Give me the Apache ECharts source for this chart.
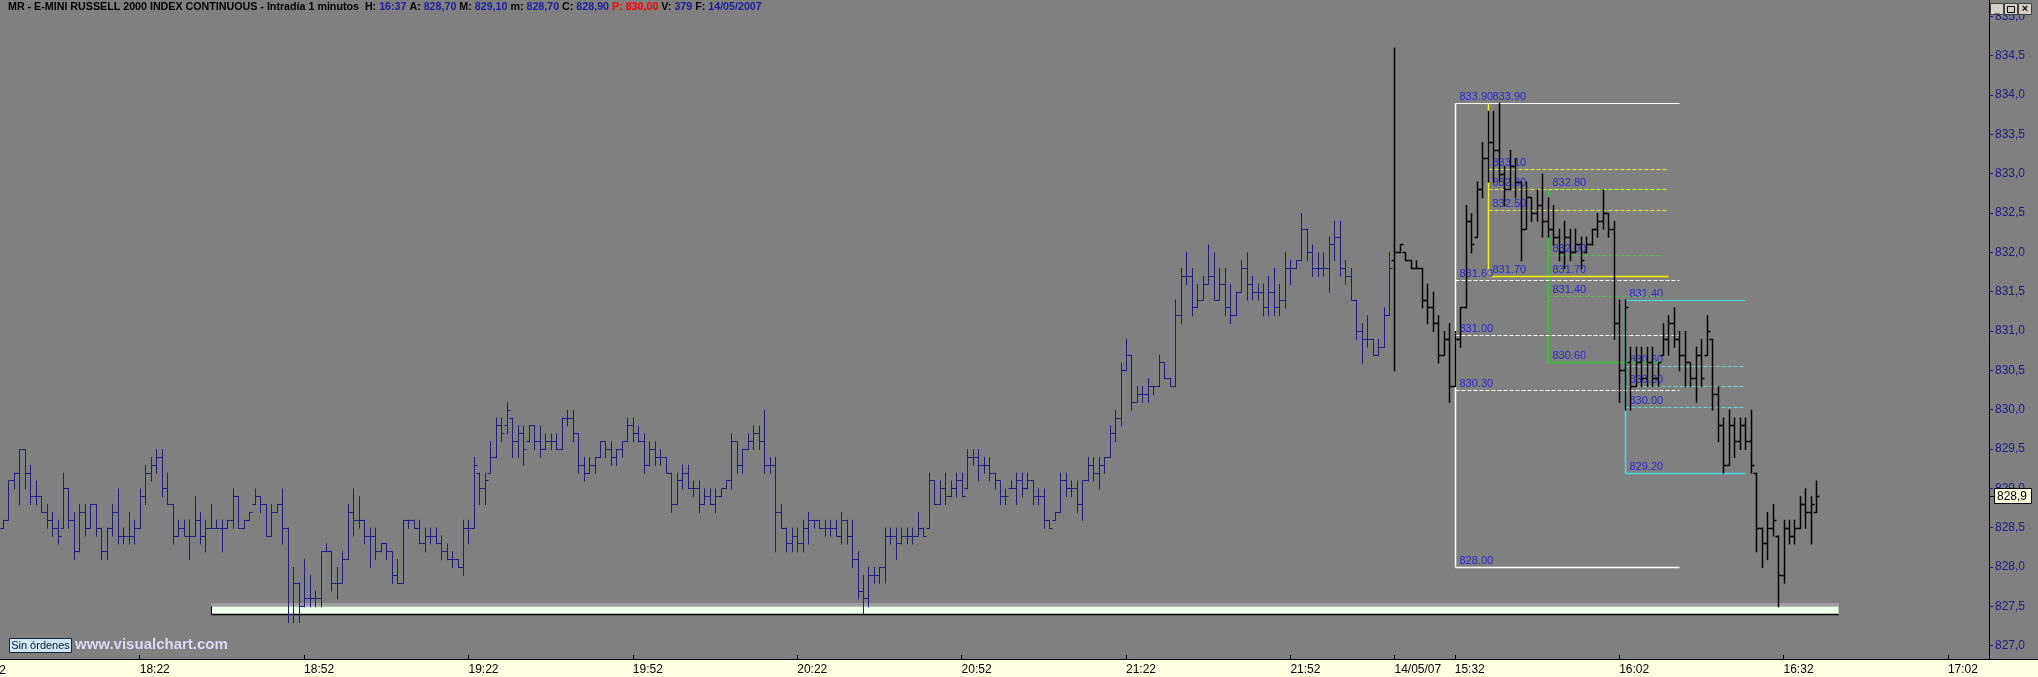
<!DOCTYPE html>
<html><head><meta charset="utf-8">
<script src="https://cdn.jsdelivr.net/npm/echarts@6/dist/echarts.min.js"></script>
<style>html,body{margin:0;padding:0;background:#808080;overflow:hidden}#chart{width:2038px;height:677px}</style>
</head><body><div id="chart"></div>
<script>
// ---------- DATA ----------
const sessionStarts = ['17:57', '15:21'];
const sessionLengths = [254, 109];
const dateLabel = '14/05/07';
const xTickLabels = ['18:22','18:52','19:22','19:52','20:22','20:52','21:22','21:52','15:32','16:02','16:32','17:02'];

// [open, high, low, close] per 1-minute bar, session 1 (from 17:57)
const dayOneBars = [
[828.5,828.6,828.5,828.6],[828.6,829.1,828.6,829.1],[829.1,829.2,829.0,829.2],[829.2,829.5,828.8,829.5],[829.5,829.5,829.0,829.2],
[829.2,829.3,828.8,828.9],[828.9,829.1,828.8,828.9],[828.9,828.9,828.7,828.7],[828.7,828.8,828.5,828.6],[828.6,828.7,828.4,828.5],
[828.5,828.6,828.3,828.4],[828.5,829.2,828.5,829.0],[829.0,829.0,828.5,828.6],[828.6,828.7,828.1,828.2],[828.2,828.8,828.2,828.7],
[828.7,828.8,828.4,828.5],[828.5,828.8,828.5,828.8],[828.8,828.8,828.4,828.5],[828.5,828.5,828.1,828.2],[828.2,828.5,828.1,828.5],
[828.5,828.8,828.4,828.7],[828.7,829.0,828.3,828.4],[828.4,828.5,828.3,828.4],[828.4,828.7,828.3,828.4],[828.4,828.6,828.3,828.5],
[828.5,829.0,828.5,828.9],[828.9,829.3,828.8,829.2],[829.2,829.4,829.1,829.3],[829.3,829.5,829.2,829.4],[829.4,829.5,828.9,829.0],
[829.0,829.2,828.8,828.8],[828.8,828.8,828.3,828.4],[828.4,828.6,828.4,828.5],[828.5,828.6,828.4,828.4],[828.4,828.6,828.1,828.4],
[828.4,828.9,828.4,828.6],[828.6,828.7,828.3,828.4],[828.4,828.6,828.2,828.5],[828.5,828.8,828.5,828.5],[828.5,828.6,828.5,828.5],
[828.5,828.6,828.2,828.5],[828.5,828.6,828.5,828.6],[828.6,829.0,828.5,828.9],[828.9,828.9,828.5,828.5],[828.5,828.6,828.5,828.6],
[828.6,828.7,828.6,828.7],[828.8,829.0,828.8,828.9],[828.9,828.9,828.7,828.8],[828.8,828.8,828.4,828.4],[828.4,828.8,828.4,828.7],
[828.7,828.8,828.7,828.8],[828.8,829.0,828.3,828.5],[828.5,828.5,827.3,827.4],[827.4,828.0,827.3,827.8],[827.8,827.8,827.3,827.5],
[827.5,828.1,827.5,827.6],[827.6,827.9,827.5,827.6],[827.6,827.7,827.5,827.6],[827.6,828.2,827.5,828.2],[828.2,828.3,828.2,828.2],
[828.2,828.2,827.7,827.8],[827.8,828.0,827.6,827.8],[827.8,828.2,827.8,828.1],[828.1,828.8,828.1,828.7],[828.7,829.0,828.4,828.6],
[828.6,828.9,828.5,828.6],[828.6,828.6,828.3,828.4],[828.4,828.5,828.0,828.4],[828.4,828.5,828.1,828.2],[828.2,828.3,828.2,828.3],
[828.3,828.3,828.1,828.2],[828.2,828.2,827.8,827.9],[827.9,828.1,827.8,827.8],[827.8,828.6,827.8,828.6],[828.6,828.6,828.5,828.6],
[828.6,828.6,828.5,828.5],[828.5,828.6,828.3,828.3],[828.3,828.5,828.2,828.4],[828.4,828.5,828.3,828.4],[828.4,828.5,828.3,828.3],
[828.3,828.4,828.1,828.2],[828.2,828.3,828.1,828.1],[828.1,828.2,828.0,828.1],[828.1,828.1,828.0,828.0],[828.0,828.6,827.9,828.5],
[828.5,828.6,828.3,828.5],[828.5,829.4,828.5,829.3],[829.2,829.2,828.8,829.0],[829.0,829.2,828.8,829.1],[829.2,829.6,829.2,829.4],
[829.4,829.9,829.4,829.8],[829.8,829.9,829.6,829.7],[829.8,830.1,829.7,830.0],[829.9,829.9,829.4,829.6],[829.6,829.8,829.4,829.7],
[829.7,829.8,829.3,829.5],[829.6,829.8,829.6,829.8],[829.8,829.8,829.5,829.6],[829.6,829.8,829.4,829.5],[829.5,829.7,829.5,829.6],
[829.6,829.7,829.5,829.6],[829.6,829.7,829.5,829.5],[829.5,829.9,829.5,829.9],[829.9,830.0,829.8,829.9],[829.9,830.0,829.6,829.7],
[829.7,829.7,829.2,829.3],[829.3,829.4,829.1,829.2],[829.2,829.4,829.2,829.3],[829.3,829.4,829.2,829.4],[829.4,829.6,829.4,829.6],
[829.6,829.6,829.4,829.5],[829.5,829.6,829.3,829.4],[829.4,829.5,829.3,829.5],[829.5,829.6,829.4,829.6],[829.6,829.9,829.6,829.8],
[829.8,829.9,829.6,829.7],[829.7,829.8,829.6,829.6],[829.6,829.7,829.2,829.3],[829.3,829.6,829.3,829.5],[829.5,829.6,829.3,829.4],
[829.4,829.5,829.3,829.4],[829.4,829.4,829.2,829.2],[829.2,829.2,828.7,828.8],[828.8,829.2,828.8,829.1],[829.1,829.3,829.0,829.2],
[829.2,829.3,829.0,829.0],[829.0,829.1,828.9,829.0],[829.0,829.1,828.7,828.8],[828.8,829.0,828.8,828.9],[828.9,829.0,828.8,828.8],
[828.8,829.0,828.7,828.9],[828.9,829.0,828.9,829.0],[829.0,829.1,829.0,829.1],[829.1,829.7,829.0,829.6],[829.6,829.6,829.2,829.3],
[829.3,829.5,829.2,829.5],[829.5,829.7,829.5,829.6],[829.6,829.8,829.5,829.7],[829.7,829.8,829.5,829.6],[829.6,830.0,829.2,829.3],
[829.3,829.4,829.2,829.3],[829.3,829.4,828.2,828.7],[828.7,828.8,828.5,828.5],[828.5,828.5,828.2,828.3],[828.3,828.5,828.2,828.4],
[828.4,828.5,828.2,828.3],[828.3,828.6,828.2,828.5],[828.5,828.7,828.3,828.6],[828.6,828.6,828.5,828.6],[828.6,828.6,828.5,828.5],
[828.5,828.6,828.4,828.5],[828.5,828.6,828.4,828.5],[828.5,828.6,828.4,828.4],[828.4,828.7,828.3,828.6],[828.6,828.6,828.3,828.4],
[828.4,828.6,828.0,828.1],[828.1,828.2,827.6,827.7],[827.7,827.9,827.4,827.6],[827.6,828.0,827.5,827.9],[827.9,828.0,827.8,827.9],
[827.9,828.0,827.8,828.0],[828.0,828.5,827.8,828.4],[828.4,828.5,828.3,828.4],[828.4,828.5,828.1,828.3],[828.3,828.5,828.3,828.4],
[828.4,828.5,828.3,828.4],[828.4,828.5,828.3,828.4],[828.4,828.7,828.4,828.5],[828.5,828.5,828.4,828.4],[828.5,829.2,828.5,829.1],
[829.1,829.1,828.8,828.8],[828.8,829.1,828.8,829.0],[829.0,829.2,828.8,828.9],[828.9,829.1,828.9,829.0],[829.0,829.2,828.9,829.1],
[829.1,829.2,828.9,828.9],[829.0,829.5,829.0,829.4],[829.4,829.5,829.3,829.4],[829.4,829.5,829.1,829.3],[829.3,829.4,829.2,829.3],
[829.3,829.4,829.1,829.2],[829.2,829.2,829.0,829.1],[829.1,829.1,828.8,828.9],[828.9,829.0,828.8,828.9],[829.0,829.1,829.0,829.0],
[829.0,829.2,828.8,829.1],[829.1,829.2,828.9,829.0],[829.0,829.2,829.0,829.1],[829.1,829.1,828.8,828.9],[828.9,829.0,828.8,828.9],
[828.9,829.0,828.5,828.6],[828.6,828.6,828.5,828.5],[828.6,828.7,828.6,828.7],[828.7,829.2,828.7,829.1],[829.1,829.2,828.9,829.0],
[829.0,829.1,828.9,829.0],[829.0,829.1,828.7,828.8],[828.8,829.1,828.6,829.1],[829.1,829.4,829.1,829.3],[829.3,829.4,829.1,829.2],
[829.2,829.4,829.0,829.3],[829.3,829.4,829.2,829.4],[829.4,829.8,829.4,829.7],[829.7,830.0,829.6,829.9],[829.9,830.6,829.8,830.5],
[830.5,830.9,830.5,830.7],[830.7,830.7,830.0,830.1],[830.1,830.3,830.1,830.2],[830.2,830.3,830.1,830.2],[830.2,830.4,830.1,830.3],
[830.3,830.3,830.2,830.3],[830.3,830.7,830.3,830.6],[830.6,830.6,830.4,830.4],[830.4,830.4,830.3,830.3],[830.3,831.4,830.3,831.2],
[831.2,831.8,831.1,831.7],[831.7,832.0,831.6,831.7],[831.7,831.8,831.2,831.3],[831.3,831.6,831.3,831.4],[831.4,831.7,831.4,831.6],
[831.6,832.1,831.6,831.7],[831.7,832.0,831.4,831.4],[831.4,831.8,831.4,831.6],[831.6,831.8,831.2,831.3],[831.3,831.6,831.1,831.2],
[831.2,831.5,831.2,831.5],[831.5,831.9,831.5,831.8],[831.8,832.0,831.4,831.6],[831.6,831.7,831.4,831.5],[831.5,831.6,831.4,831.5],
[831.5,831.6,831.2,831.3],[831.3,831.7,831.2,831.5],[831.5,831.8,831.2,831.3],[831.3,831.6,831.2,831.4],[831.4,832.0,831.3,831.8],
[831.8,831.9,831.6,831.8],[831.8,831.9,831.8,831.9],[831.9,832.5,831.9,832.3],[832.3,832.3,831.9,832.0],[832.0,832.1,831.7,831.8],
[831.8,832.0,831.7,831.8],[831.8,832.0,831.7,831.8],[831.8,832.2,831.5,832.1],[832.1,832.4,831.9,832.2],[832.2,832.4,831.7,831.8],
[831.8,831.9,831.6,831.7],[831.7,831.8,831.4,831.4],[831.4,831.4,830.9,831.0],[831.0,831.1,830.6,830.9],[830.9,831.2,830.8,830.9],
[830.9,830.9,830.7,830.7],[830.7,830.9,830.7,830.8],[830.8,831.3,830.8,831.2],[831.2,832.0,831.2,831.8]
];

// [open, high, low, close] per 1-minute bar, session 2 (14/05/07, from 15:21)
const dayTwoBars = [
[831.9,834.6,830.5,832.0],[832.0,832.1,832.0,832.1],[832.0,832.0,831.9,831.9],[831.9,831.9,831.8,831.8],[831.8,831.9,831.8,831.8],
[831.8,831.8,831.3,831.4],[831.4,831.6,831.1,831.3],[831.3,831.5,831.0,831.1],[831.1,831.2,830.6,830.7],[830.7,831.0,830.7,830.9],
[830.9,831.1,830.1,830.3],[830.3,831.0,830.3,830.9],[830.9,831.3,830.8,831.3],[831.3,832.6,831.3,832.4],[832.4,832.5,832.0,832.1],
[832.2,832.9,832.2,832.8],[832.8,833.4,832.7,833.2],[833.2,833.8,832.9,833.4],[833.4,833.8,832.9,833.3],[833.3,833.9,832.9,833.0],
[833.0,833.1,832.6,832.8],[832.8,833.3,832.8,833.1],[833.1,833.2,832.7,832.9],[832.9,832.9,831.9,832.3],[832.3,832.9,832.3,832.7],
[832.7,832.7,832.4,832.5],[832.5,832.8,832.4,832.6],[832.6,833.0,832.2,832.4],[832.4,832.7,832.2,832.3],[832.3,832.6,832.1,832.2],
[832.2,832.3,831.9,832.0],[832.0,832.4,831.8,832.2],[832.2,832.3,831.9,832.0],[832.0,832.3,832.0,832.1],[832.1,832.2,831.8,831.9],
[832.0,832.2,832.0,832.1],[832.1,832.3,832.1,832.3],[832.3,832.5,832.2,832.4],[832.4,832.8,832.3,832.5],[832.5,832.5,832.2,832.3],
[832.3,832.4,830.9,831.1],[831.1,831.4,830.1,830.5],[830.5,831.4,830.0,831.3],[830.6,830.8,830.0,830.3],[830.3,830.8,830.3,830.6],
[830.6,830.8,830.3,830.4],[830.4,830.8,830.3,830.6],[830.6,830.8,830.3,830.4],[830.4,830.6,830.3,830.6],[830.7,831.1,830.7,830.9],
[830.9,831.2,830.7,831.1],[831.1,831.3,830.8,830.9],[830.9,831.0,830.5,830.7],[830.7,831.0,830.3,830.6],[830.6,830.6,830.3,830.4],
[830.4,830.8,830.1,830.7],[830.7,830.9,830.3,830.4],[830.7,831.2,830.7,831.0],[830.9,830.9,830.0,830.2],[830.2,830.3,829.6,829.8],
[829.8,829.9,829.2,829.3],[829.3,830.0,829.3,829.8],[829.8,829.9,829.4,829.6],[829.6,829.9,829.5,829.8],[829.8,829.9,829.5,829.6],
[829.6,830.0,829.2,829.3],[829.2,829.2,828.2,828.5],[828.5,828.5,828.0,828.3],[828.3,828.7,828.1,828.5],[828.5,828.8,828.4,828.6],
[828.4,828.4,827.5,827.9],[827.9,828.6,827.8,828.5],[828.5,828.6,828.3,828.4],[828.4,828.6,828.3,828.5],[828.5,828.9,828.5,828.8],
[828.8,829.0,828.5,828.7],[828.7,828.9,828.3,828.8],[828.7,829.1,828.7,828.9]
];

// Retracement boxes: white, yellow, green, cyan (category index of start/end, prices)
const boxStart = [265, 271, 282, 296];
const boxEnd = [306, 304, 303, 318];
const boxHigh = [833.9, 833.9, 832.8, 831.4];
const boxLow = [828.0, 831.7, 830.6, 829.2];
const boxLevels = [[831.65, 830.95, 830.25], [833.06, 832.80, 832.54], [831.96, 831.70, 831.44], [830.56, 830.30, 830.04]];

// Pending-orders band (category start, category end, top price, bottom price)
const orderBand = [38, 335, 827.5, 827.4];

const headerTitle = 'MR - E-MINI RUSSELL 2000 INDEX CONTINUOUS - Intradía 1 minutos';
const headerKeys = ['H:', 'A:', 'M:', 'm:', 'C:', 'P:', 'V:', 'F:'];
const headerValues = ['16:37', '828,70', '829,10', '828,70', '828,90', '830,00', '379', '14/05/2007'];

// ---------- STYLES ----------
const BOX_COLORS = ['#FFFFFF', '#F2F200', '#30C830', '#40E0E0'];
const LEVEL_COLORS = ['#FFFFFF', '#E6E640', '#58B858', '#70CFCF'];
const LABEL_COLOR = '#2A2AD2';
const FONT = '"Liberation Sans", Arial, sans-serif';

// ---------- BUILD ----------
function toMin(t){const p=t.split(':');return (+p[0])*60+(+p[1]);}
function fmtMin(m){m=((m%1440)+1440)%1440;const h=Math.floor(m/60),mm=m%60;return (h<10?'0':'')+h+':'+(mm<10?'0':'')+mm;}
const categories = [];
sessionStarts.forEach((s,k)=>{const b=toMin(s);for(let j=0;j<sessionLengths[k];j++)categories.push(fmtMin(b+j));});
const day2Start = sessionLengths[0];
const labelSet = new Set(xTickLabels);
const showLabel = (idx, val) => labelSet.has(val) || idx === day2Start;

const d1 = dayOneBars.map((b,i)=>[i, b[0], b[1], b[2], b[3]]);
const d2 = dayTwoBars.map((b,i)=>[day2Start+i, b[0], b[1], b[2], b[3]]);
const lastPrice = dayTwoBars[dayTwoBars.length-1][3];

function ohlcRender(color, width){
  return function(params, api){
    const i = api.value(0);
    const o = api.coord([i, api.value(1)]);
    const h = api.coord([i, api.value(2)]);
    const l = api.coord([i, api.value(3)]);
    const c = api.coord([i, api.value(4)]);
    const x = Math.round(h[0]) + 0.5;
    const st = {stroke: color, lineWidth: width};
    const oy = Math.round(o[1]) + 0.5, cy = Math.round(c[1]) + 0.5;
    return {type:'group', children:[
      {type:'line', shape:{x1:x, y1:h[1], x2:x, y2:l[1]+1}, style:st},
      {type:'line', shape:{x1:x-3, y1:oy, x2:x, y2:oy}, style:st},
      {type:'line', shape:{x1:x, y1:cy, x2:x+3, y2:cy}, style:st}
    ]};
  };
}

const boxData = [];
for (let k = boxStart.length-1; k >= 0; k--) {
  boxData.push([boxStart[k], boxEnd[k], boxHigh[k], boxLow[k], boxLevels[k][0], boxLevels[k][1], boxLevels[k][2], k]);
}
function boxRender(params, api){
  const s = api.value(0), e = api.value(1), hi = api.value(2), lo = api.value(3);
  const k = api.value(7);
  const col = BOX_COLORS[k], lcol = LEVEL_COLORS[k];
  const pHi = api.coord([s, hi]), pLo = api.coord([s, lo]);
  const xe = api.coord([e, hi])[0];
  const xs = Math.round(pHi[0]) + 0.5;
  const yh = Math.round(pHi[1]) + 0.5, yl = Math.round(pLo[1]) + 0.5;
  const ch = [];
  const txt = (v, y) => ({type:'text', x: xs+4, y: y-1, style:{text: v.toFixed(1)+'0', fill: LABEL_COLOR, font: '11px '+FONT, align:'left', verticalAlign:'bottom'}});
  ch.push({type:'line', shape:{x1:xs, y1:yh, x2:xs, y2:yl}, style:{stroke:col, lineWidth:1.5}});
  ch.push({type:'line', shape:{x1:xs, y1:yh, x2:xe, y2:yh}, style:{stroke:col, lineWidth:1}});
  ch.push({type:'line', shape:{x1:xs, y1:yl, x2:xe, y2:yl}, style:{stroke:col, lineWidth:1.5}});
  for (let j = 4; j <= 6; j++) {
    const lv = api.value(j);
    const y = Math.round(api.coord([s, lv])[1]) + 0.5;
    ch.push({type:'line', shape:{x1:xs, y1:y, x2:xe, y2:y}, style:{stroke:lcol, lineWidth:1, lineDash:[4,2]}});
    ch.push(txt(lv, y));
  }
  ch.push(txt(hi, yh));
  ch.push(txt(lo, yl));
  return {type:'group', children: ch};
}

function bandRender(params, api){
  const p1 = api.coord([api.value(0), api.value(2)]);
  const p2 = api.coord([api.value(1), api.value(3)]);
  const x1 = Math.round(p1[0]) + 0.5, x2 = Math.round(p2[0]) + 0.5;
  const y1 = Math.round(p1[1]) + 0.5, y2 = Math.round(p2[1]) + 0.5;
  return {type:'group', children:[
    {type:'line', shape:{x1:x1, y1:y1-2, x2:x2, y2:y1-2}, style:{stroke:'#BDBDBD', lineWidth:3, lineDash:[1,1]}},
    {type:'rect', shape:{x:x1, y:y1, width:x2-x1, height:y2-y1}, style:{fill:'#EEFFEC', stroke:null}},
    {type:'line', shape:{x1:x1, y1:y2, x2:x2, y2:y2}, style:{stroke:'#000', lineWidth:1.5}},
    {type:'line', shape:{x1:x1, y1:y1, x2:x1, y2:y2}, style:{stroke:'#000', lineWidth:1}}
  ]};
}

let title = '{l|' + headerTitle + '  }';
headerKeys.forEach((k,i)=>{
  if (k === 'P:') title += '{r|' + k + ' ' + headerValues[i] + '}{l| }';
  else title += '{l|' + k + ' }{v|' + headerValues[i] + '}{l| }';
});

const chart = echarts.init(document.getElementById('chart'), null, {renderer:'canvas'});
chart.setOption({
  animation: false,
  backgroundColor: '#808080',
  title: {
    left: 8, top: 2, padding: 0, text: title,
    textStyle: {rich: {
      l: {color:'#000000', fontSize:10.7, fontFamily: FONT},
      v: {color:'#1E1E9C', fontSize:10.7, fontFamily: FONT},
      r: {color:'#FF0000', fontSize:10.7, fontFamily: FONT}
    }}
  },
  grid: {left: 0, right: 49, top: -23, bottom: -8, containLabel: false, outerBoundsMode: 'none'},
  xAxis: {
    type: 'category', data: categories, boundaryGap: true, offset: -26, z: 5,
    axisLine: {lineStyle: {color:'#000', width:1}},
    axisTick: {show:true, inside:true, length:4, alignWithLabel:true, interval: showLabel, lineStyle:{color:'#000'}},
    axisLabel: {interval: showLabel, hideOverlap: false, align:'left', color:'#000', fontSize:12, fontFamily: FONT, margin:5,
      formatter: (v, idx) => idx === day2Start ? dateLabel : v},
    splitLine: {show:false}
  },
  yAxis: {
    type: 'value', position: 'right', min: 826.5, max: 835.5, interval: 0.5,
    axisLine: {show:true, lineStyle:{color:'#000', width:1}},
    axisTick: {show:true, length:4, lineStyle:{color:'#1C1C86'}},
    axisLabel: {color:'#1C1C86', fontSize:12, fontFamily: FONT, margin:6, formatter: v => v.toFixed(1).replace('.', ',')},
    splitLine: {show:false}
  },
  series: [
    {type:'custom', name:'band', z:1, renderItem: bandRender, data:[orderBand], encode:{x:[0,1], y:[2,3]}, silent:true},
    {type:'custom', name:'boxes', z:2, renderItem: boxRender, data: boxData, encode:{x:[0,1], y:[2,3,4,5,6]}, silent:true},
    {type:'custom', name:'session1', z:3, renderItem: ohlcRender('#1E1E7C', 1), data: d1, encode:{x:0, y:[1,2,3,4]}, silent:true},
    {type:'custom', name:'session2', z:4, renderItem: ohlcRender('#000000', 1.5), data: d2, encode:{x:0, y:[1,2,3,4]}, silent:true}
  ],
  graphic: [
    {id:'strip', type:'rect', z:1, shape:{x:0, y:659, width:2038, height:18}, style:{fill:'#FFFFE1'}},
    {id:'stripLine', type:'line', z:1, shape:{x1:0, y1:659.5, x2:2038, y2:659.5}, style:{stroke:'#000', lineWidth:1}},
    {id:'cutLabel', type:'text', z:6, x:-24, y:665, style:{text:'17:52', fill:'#000', font:'12px '+FONT}},
    {id:'ordersBox', type:'rect', z:6, shape:{x:9.5, y:638.5, width:62, height:14}, style:{fill:'#D2E6F2', stroke:'#1A2633', lineWidth:1}},
    {id:'ordersText', type:'text', z:7, x:40.5, y:646, style:{text:'Sin órdenes', fill:'#0A1A30', font:'11px '+FONT, align:'center', verticalAlign:'middle'}},
    {id:'brand', type:'text', z:6, x:75, y:645, style:{text:'www.visualchart.com', fill:'#DADAF2', font:'bold 15px '+FONT, verticalAlign:'middle'}},
    {id:'b1', type:'rect', z:6, shape:{x:1990.5, y:3.5, width:13, height:11}, style:{fill:'#D4D0C8', stroke:'#404040'}},
    {id:'b2', type:'rect', z:6, shape:{x:2004.5, y:3.5, width:13, height:11}, style:{fill:'#D4D0C8', stroke:'#404040'}},
    {id:'b3', type:'rect', z:6, shape:{x:2018.5, y:3.5, width:13, height:11}, style:{fill:'#D4D0C8', stroke:'#404040'}},
    {id:'g1', type:'text', z:7, x:1997, y:9, style:{text:'_', fill:'#000', font:'bold 10px '+FONT, align:'center', verticalAlign:'middle'}},
    {id:'g2', type:'rect', z:7, shape:{x:2007.5, y:6.5, width:7, height:6}, style:{fill:null, stroke:'#000', lineWidth:1}},
    {id:'g3', type:'text', z:7, x:2025, y:9, style:{text:'×', fill:'#000', font:'bold 11px '+FONT, align:'center', verticalAlign:'middle'}}
  ]
});

// last-price tag on the price axis, positioned through the axis scale
const py = Math.round(chart.convertToPixel({yAxisIndex: 0}, lastPrice));
const ax = Math.round(chart.convertToPixel({xAxisIndex: 0}, categories.length - 1) + 2.7);
chart.setOption({graphic: [
  {id:'pxArrow', type:'line', z:9, shape:{x1:ax+1, y1:py+0.5, x2:ax+5, y2:py+0.5}, style:{stroke:'#000', lineWidth:1}},
  {id:'pxBox', type:'rect', z:10, shape:{x:ax+5.5, y:py-7.5, width:37, height:15}, style:{fill:'#FFFFE0', stroke:'#000', lineWidth:1}},
  {id:'pxText', type:'text', z:11, x:ax+8, y:py+1, style:{text: lastPrice.toFixed(1).replace('.', ','), fill:'#000', font:'12px '+FONT, verticalAlign:'middle'}}
]});
</script>
</body></html>
